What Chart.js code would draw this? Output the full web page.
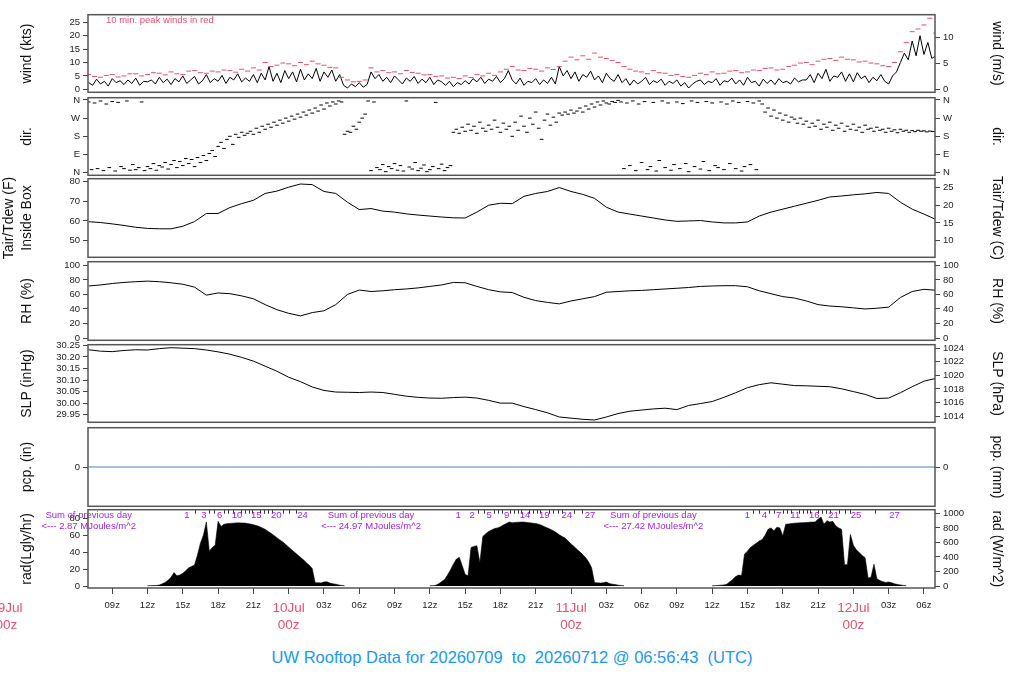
<!DOCTYPE html>
<html>
<head>
<meta charset="utf-8">
<script src="https://cdn.jsdelivr.net/npm/chart.js@4.4.1/dist/chart.umd.min.js"></script>
<style>
  body { margin: 0; background: #fff; width: 1024px; height: 700px; overflow: hidden; position: relative; }
  canvas { position: absolute; left: 0; }
  #title { position: absolute; left: 0; top: 648px; width: 1024px; text-align: center; white-space: pre;
           color: #2297E6; font: 16.5px "Liberation Sans", Arial, sans-serif; }
</style>
</head>
<body>
<canvas id="cWind"></canvas>
<canvas id="cDir"></canvas>
<canvas id="cTemp"></canvas>
<canvas id="cRh"></canvas>
<canvas id="cSlp"></canvas>
<canvas id="cPcp"></canvas>
<canvas id="cRad"></canvas>
<div id="title">UW Rooftop Data for 20260709  to  20260712 @ 06:56:43  (UTC)</div>
<script>
// all times are hours since 2026-07-09 00z
const xMinHour = 6.94, xMaxHour = 78.94;
const xTickHours = [9, 12, 15, 18, 21, 24, 27, 30, 33, 36, 39, 42, 45, 48, 51, 54, 57, 60, 63, 66, 69, 72, 75, 78];
const dayHours = [0, 24, 48, 72];
const dayNames = ['09Jul', '10Jul', '11Jul', '12Jul'];

// wind speed, 20 min
const windStart = 7, windStep = 1 / 3;
const windKts = [
  2.5, 1.5, 3.8, 2.0, 3.0, 1.2, 4.0, 2.5, 3.2, 1.8, 3.5, 2.2, 4.2, 1.5, 3.0, 2.8,
  3.5, 2.0, 4.5, 2.5, 3.8, 1.8, 4.0, 2.8, 5.0, 2.2, 3.5, 4.8, 2.0, 3.2, 5.5, 2.5, 4.0, 3.0, 5.2, 2.2, 4.5, 3.5, 5.8, 2.8, 4.2,
  3.0, 5.5, 2.5, 6.0, 3.5, 8.5,
  3.0, 6.0, 2.5, 7.0, 4.0, 6.5, 2.8, 7.5, 3.5, 5.8, 4.0, 7.8, 3.0, 6.5, 4.5, 7.2, 3.0, 5.5,
  1.5, 0.5, 2.0, 1.0, 2.5, 0.8, 1.8, 6.5,
  4.0, 5.5, 3.0, 4.5, 2.5, 5.0, 3.5, 2.0, 4.2, 3.0, 4.8, 2.2, 3.8, 2.5, 4.5, 1.8, 3.5, 2.8,
  1.5, 3.0, 1.0, 2.5, 1.8, 3.2, 2.0, 4.0, 2.8, 4.5, 2.2, 3.8, 3.0, 4.8, 2.5, 4.0, 7.0,
  3.5, 2.0, 4.2, 1.5, 3.0, 2.5, 4.0, 1.8, 3.5, 2.2, 4.5, 2.0, 8.5,
  5.0, 7.0, 4.0, 6.5, 3.0, 5.5, 4.5, 6.8, 3.5, 5.0, 2.5, 6.0, 4.0, 3.0, 5.5,
  2.5, 4.0, 1.5, 3.5, 2.0, 3.0, 4.5, 1.8, 3.2, 2.5, 3.8, 1.5, 3.0, 2.2, 3.5, 1.2, 2.5, 0.5, 2.0, 3.0,
  3.5, 1.8, 3.0, 2.5, 4.0, 1.5, 3.2, 2.8, 4.2, 2.0, 3.5, 1.5, 4.5, 2.5, 3.0, 1.2, 3.8, 2.2, 3.5, 1.8, 4.0, 2.5, 3.0, 2.0, 4.2, 2.8, 3.5,
  3.5, 5.5, 2.5, 6.0, 4.0, 7.5, 3.0, 5.0, 4.5, 6.5, 3.0, 5.8, 2.8, 6.2, 4.0, 5.0, 2.5, 4.5, 3.2, 5.5, 3.0, 2.0, 5.0, 6.5,
  10.0, 13.5, 11.0, 18.0, 12.5, 20.0, 13.0, 17.5, 11.5, 12.5
];

// 10 min peak wind, shown every 30 min
const peakStart = 7, peakStep = 0.5;
const windPeakKts = [
  5.5, 4.8, 4.5, 5.2, 5.5, 4.6, 5.0, 5.8, 5.8, 5.0, 5.5, 6.2, 6.0, 5.4, 6.5, 5.8, 5.5, 6.8, 7.0, 6.2,
  6.0, 6.8, 6.5, 7.2, 7.0, 6.4, 7.5, 6.8, 8.0, 7.2, 10.0, 8.5, 9.0, 9.8, 9.5, 8.8, 10.0, 9.2, 10.5, 9.5,
  9.0, 8.2, 8.0, 4.5, 3.5, 2.8, 3.0, 3.5, 8.0, 6.5, 7.0, 6.2, 6.5, 5.8, 7.0, 6.3, 6.0, 5.4, 5.5, 4.8,
  5.0, 4.2, 4.5, 4.0, 5.0, 4.4, 5.5, 5.0, 6.0, 5.2, 6.5, 7.5, 8.5, 7.2, 7.0, 7.8, 7.5, 6.8, 8.0, 7.4,
  8.5, 10.5, 12.0, 11.0, 12.5, 11.2, 13.5, 12.0, 11.5, 10.8, 10.0, 8.5, 7.5, 6.8, 6.5, 5.8, 7.0, 6.2, 6.0, 5.2,
  5.5, 4.8, 4.5, 5.2, 6.0, 5.5, 6.5, 5.8, 6.0, 6.8, 7.0, 6.2, 6.5, 7.2, 7.0, 7.8, 8.0, 7.2, 7.5, 8.5,
  9.0, 9.8, 10.0, 9.2, 10.5, 11.2, 11.5, 10.8, 12.0, 11.2, 11.0, 10.2, 10.5, 9.8, 9.5, 8.8, 8.5, 10.0, 14.0, 17.5,
  21.5, 22.5, 24.0, 26.5, 21.0
];

// wind direction, 15 min
const dirStart = 7, dirStep = 0.25;
const dirDeg = [
  350, 15, 345, 20, 355, 10, 340, 25, 352, 8, 348, 30, 20, 355, 12, 40,
  15, 25, 350, 10, 30, 20, 45, 12, 35, 28, 50, 18, 40, 60, 25, 55, 35, 70, 45, 65, 30, 75, 50, 85, 60, 95,
  110, 80, 130, 150, 120, 165, 180, 140, 190, 175, 200, 185, 195,
  205, 190, 220, 200, 230, 215, 240, 225, 250, 235, 260, 245, 270, 255, 280, 265, 290,
  275, 300, 285, 310, 295, 320, 305, 335, 315, 345, 330, 350, 340, 355,
  350, 190, 205,
  200, 230, 215, 250, 270, 290, 355,
  10, 350, 25, 15, 40, 5, 30, 20, 45, 12, 35, 8, 355, 28, 18, 50, 10, 22, 38, 5, 15, 30, 348, 20, 42, 10, 25, 35,
  200, 215, 195, 225, 205, 240, 210, 230, 195, 250, 220, 205, 235, 215, 260, 225, 200, 245, 215, 230,
  180, 250, 210, 280, 230, 200, 270, 240, 300, 220, 165, 260, 290, 235, 275, 250, 295,
  285, 300, 290, 310, 295, 305, 320, 300, 330, 315, 340, 325, 350, 335, 355, 345, 340, 352, 348, 358,
  350, 20, 345, 35, 355, 10, 340, 50, 352, 15, 30, 348, 8, 60, 355, 25, 345, 12, 40, 350,
  20, 342, 45, 5, 355, 30, 348, 18, 55, 352, 10, 345, 35, 25, 350, 15, 340, 45, 355, 20,
  348, 8, 30, 352, 40, 345, 15, 355,
  340, 300, 320, 280, 310, 270, 295, 260, 285, 250, 275, 265, 245, 270,
  240, 255, 225, 245, 230, 260, 215, 240, 225, 250, 210, 235, 220, 245, 205, 230, 215, 240, 210, 225, 200, 235, 215, 220, 205, 225, 210,
  215, 200, 220, 205, 212, 198, 215, 205, 210, 200, 208, 203, 210, 205, 207, 202, 206, 204, 205
];

// hourly series
const hourlyStart = 7, hourlyStep = 1;
const tempF = [
  59.6, 59.2, 58.5, 57.7, 56.8, 56.2, 56.0, 56.0, 57.3, 59.7,
  63.8, 63.8, 66.8, 68.8, 70.5, 74.0, 75.2, 77.2, 78.8, 78.5,
  75.0, 74.0, 69.5, 65.8, 66.3, 65.0, 64.5, 63.6, 63.0, 62.5,
  62.0, 61.6, 61.5, 64.5, 68.0, 69.0, 68.8, 72.5, 74.0, 75.0,
  77.0, 75.0, 73.5, 71.5, 67.0, 64.5, 63.5, 62.5, 61.5, 60.5,
  59.8, 60.0, 60.2, 59.5, 59.0, 59.0, 59.5, 62.5, 64.5, 66.0,
  67.5, 69.0, 70.5, 72.2, 72.7, 73.3, 73.8, 74.5, 74.0, 69.5,
  66.0, 63.5, 60.8
];
const rhPct = [
  71.6, 73, 75, 76.5, 77.5, 78.3, 77.5, 76, 74, 70,
  59, 62, 61, 58, 54, 46, 39, 34, 30.5, 35,
  37.5, 46, 60, 66, 64, 65, 66.5, 67.5, 69, 71,
  73, 76.5, 76, 71, 66.5, 63.5, 62.6, 56, 51.5, 49,
  47, 51, 54, 57, 63, 64, 65, 65.5, 66.5, 67.5,
  68.5, 69.5, 71, 71.6, 72, 72, 70.5, 65, 61, 57,
  55, 51, 46, 44, 43, 41.5, 40, 41, 42.5, 55.8,
  64, 67, 65.8
];
const slpInHg = [
  30.231, 30.225, 30.223, 30.228, 30.231, 30.230, 30.236, 30.240, 30.238, 30.236,
  30.230, 30.222, 30.212, 30.198, 30.182, 30.160, 30.138, 30.112, 30.093, 30.070,
  30.055, 30.048, 30.047, 30.046, 30.048, 30.046, 30.038, 30.030, 30.025, 30.022,
  30.021, 30.024, 30.026, 30.022, 30.012, 30.000, 30.000, 29.985, 29.972, 29.958,
  29.940, 29.935, 29.930, 29.927, 29.940, 29.955, 29.965, 29.970, 29.975, 29.978,
  29.972, 29.990, 29.998, 30.007, 30.025, 30.045, 30.067, 30.080, 30.088, 30.082,
  30.076, 30.075, 30.073, 30.071, 30.062, 30.050, 30.038, 30.020, 30.022, 30.045,
  30.071, 30.095, 30.107
];
const pcpStart = 7, pcpStep = 6;
const pcpIn = [0, 0, 0, 0, 0, 0, 0, 0, 0, 0, 0, 0, 0];

// solar radiation W/m^2, 15 min, one array per day
const radStep = 0.25;
const radDay1Start = 12;
const radDay1 = [
  3, 5, 6, 8, 13, 30, 50, 80, 120, 185,
  140, 150, 175, 210, 250, 270, 290, 430, 590, 700,
  880, 480, 530, 560, 890, 820, 850, 858, 862, 865,
  868, 870, 868, 866, 860, 852, 845, 832, 818, 800,
  780, 752, 725, 695, 665, 635, 605, 570, 535, 500,
  465, 430, 395, 360, 320, 285, 240, 45, 45, 42,
  55, 58, 40, 30, 25, 15, 8, 3
];
const radDay2Start = 36;
const radDay2 = [
  3, 5, 10, 30, 60, 90, 150, 220, 300, 370,
  395, 280, 160, 140, 530, 545, 555, 320, 680, 720,
  750, 770, 790, 800, 815, 840, 860, 880, 870, 875,
  878, 880, 880, 875, 870, 865, 860, 850, 835, 815,
  800, 780, 760, 735, 705, 680, 660, 620, 580, 545,
  505, 470, 430, 390, 330, 250, 45, 45, 40, 45,
  55, 35, 25, 20, 12, 8, 3
];
const radDay3Start = 60;
const radDay3 = [
  3, 5, 8, 12, 15, 25, 60, 90, 130, 150,
  145, 440, 480, 530, 560, 590, 620, 640, 700, 780,
  800, 760, 810, 800, 690, 850, 855, 860, 865, 868,
  870, 872, 875, 878, 880, 880, 920, 950, 850, 900,
  880, 890, 830, 800, 780, 290, 300, 710, 560, 500,
  460, 420, 390, 110, 120, 300, 100, 75, 60, 50,
  55, 45, 30, 20, 15, 8, 3
];

// cumulative MJ/m^2 marks along the top of the radiation panel
const cumHoursDay1 = [15.34, 16.79, 18.13, 19.6, 21.25, 22.95, 25.17];
const cumLabelsDay1 = [1, 3, 6, 10, 15, 20, 24];
const cumHoursDay2 = [38.41, 39.6, 41.04, 42.53, 44.09, 45.73, 47.63, 49.62];
const cumLabelsDay2 = [1, 2, 5, 9, 14, 19, 24, 27];
const cumHoursDay3 = [63.0, 64.43, 65.64, 67.06, 68.68, 70.32, 72.23, 75.49];
const cumLabelsDay3 = [1, 4, 7, 11, 16, 21, 25, 27];
const sumHours = [7, 31, 55];
const sumMJ = ['2.87', '24.97', '27.42'];

// axis ticks
const windKtsTicks = [0, 5, 10, 15, 20, 25];
const windMsTicks = [0, 5, 10];
const dirTicks = [0, 90, 180, 270, 360];
const dirTickLabels = ['N', 'E', 'S', 'W', 'N'];
const tempFTicks = [50, 60, 70, 80];
const tempCTicks = [10, 15, 20, 25];
const rhTicks = [0, 20, 40, 60, 80, 100];
const slpInTicks = [29.95, 30.00, 30.05, 30.10, 30.15, 30.20, 30.25];
const slpHpaTicks = [1014, 1016, 1018, 1020, 1022, 1024];
const pcpTicks = [0];
const radLyTicks = [0, 20, 40, 60, 80];
const radWTicks = [0, 200, 400, 600, 800, 1000];

// unit conversions
const KT_MS = 0.514444, INHG_HPA = 33.8639, LY_WM2 = 11.622, IN_MM = 25.4;
const fToC = f => (f - 32) * 5 / 9;

const FONT = '"Liberation Sans", Arial, sans-serif';
const RED = '#DF536B', PURPLE = '#A020F0';
const PLOT_L = 88, PLOT_R = 935, PAD = 8, XAXIS_H = 50;

function series(start, step, vals) {
  return vals.map((v, i) => ({x: start + i * step, y: v}));
}

function yAxis(side, min, max, ticks, title, fmt) {
  const left = side === 'left';
  const multi = Array.isArray(title);
  return {
    position: side, min: min, max: max,
    afterBuildTicks: s => { s.ticks = ticks.map(v => ({value: v})); },
    afterFit: s => { s.width = left ? PLOT_L : 1024 - PLOT_R; },
    grid: {drawOnChartArea: false, tickLength: 5, color: '#444'},
    border: {display: false},
    ticks: {
      autoSkip: false,
      font: {family: FONT, size: 9.5}, color: '#222', padding: 3,
      callback: (v, i) => fmt ? fmt(v, i) : String(v)
    },
    title: {
      display: true, text: title, color: '#111',
      font: {family: FONT, size: 14, lineHeight: 1.25},
      padding: {top: multi ? 0.75 : (left ? 18.75 : 18.25), bottom: 0}
    }
  };
}

const hiddenX = {type: 'linear', min: xMinHour, max: xMaxHour, display: false};

const radX = {
  type: 'linear', min: xMinHour, max: xMaxHour, position: 'bottom',
  afterBuildTicks: s => { s.ticks = xTickHours.map(v => ({value: v})); },
  afterFit: s => { s.height = XAXIS_H; },
  grid: {drawOnChartArea: false, tickLength: 6, color: '#444'},
  border: {display: false},
  ticks: {
    autoSkip: false, maxRotation: 0, padding: 5.5, color: '#222',
    font: {family: FONT, size: 9.5},
    callback: v => v % 24 === 0 ? '' : String(v % 24).padStart(2, '0') + 'z'
  }
};

//caja alrededor de cada panel
const framePlugin = {
  id: 'frame',
  afterDraw(chart) {
    const {ctx, chartArea: a} = chart;
    ctx.save();
    ctx.strokeStyle = '#555';
    ctx.lineWidth = 1.5;
    ctx.strokeRect(a.left, a.top, a.right - a.left, a.bottom - a.top);
    ctx.restore();
  }
};

const windNote = {
  id: 'windNote',
  afterDraw(chart) {
    const {ctx, chartArea: a} = chart;
    ctx.save();
    ctx.fillStyle = RED;
    ctx.font = '9.5px ' + FONT;
    ctx.textBaseline = 'middle';
    ctx.fillText('10 min. peak winds in red', a.left + 18, a.top + 6);
    ctx.restore();
  }
};

const radNotes = {
  id: 'radNotes',
  afterDatasetsDraw(chart) {
    const {ctx, chartArea: a, scales: {x}} = chart;
    ctx.save();
    ctx.font = '9.5px ' + FONT;
    ctx.textAlign = 'center';
    ctx.textBaseline = 'middle';
    ctx.fillStyle = PURPLE;
    ctx.strokeStyle = '#333';
    ctx.lineWidth = 1;
    [[cumHoursDay1, cumLabelsDay1], [cumHoursDay2, cumLabelsDay2], [cumHoursDay3, cumLabelsDay3]].forEach(([hrs, labs]) => {
      hrs.forEach((h, k) => {
        ctx.fillText(String(labs[k]), x.getPixelForValue(h), a.top + 6);
        if (k + 1 < hrs.length) {
          // una marca por cada MJ entre etiquetas
          const n = labs[k + 1] - labs[k];
          for (let j = 1; j < n; j++) {
            const px = Math.round(x.getPixelForValue(h + (hrs[k + 1] - h) * j / n)) + 0.5;
            ctx.beginPath();
            ctx.moveTo(px, a.top);
            ctx.lineTo(px, a.top + 4);
            ctx.stroke();
          }
        }
      });
    });
    sumHours.forEach((h, k) => {
      const px = x.getPixelForValue(h);
      ctx.fillText('Sum of previous day', px, a.top + 6);
      ctx.fillText('<--- ' + sumMJ[k] + ' MJoules/m^2', px, a.top + 17);
    });
    // etiquetas de dia en rojo
    ctx.fillStyle = RED;
    ctx.font = '13.5px ' + FONT;
    dayHours.forEach((h, k) => {
      const px = x.getPixelForValue(h);
      ctx.fillText(dayNames[k], px, a.bottom + 20);
      ctx.fillText('00z', px, a.bottom + 37);
    });
    ctx.restore();
  }
};

function makePanel(id, boxTop, boxBottom, datasets, yLeft, yRight, xScale, extraPlugins) {
  const cv = document.getElementById(id);
  const hasX = xScale !== hiddenX;
  cv.width = 1024;
  cv.height = (boxBottom - boxTop) + PAD + (hasX ? XAXIS_H : PAD);
  cv.style.top = (boxTop - PAD) + 'px';
  return new Chart(cv, {
    type: 'line',
    data: {datasets: datasets},
    options: {
      responsive: false,
      animation: false,
      events: [],
      layout: {padding: {top: PAD, bottom: hasX ? 0 : PAD, left: 0, right: 0}},
      plugins: {legend: {display: false}, tooltip: {enabled: false}},
      scales: {x: xScale, y: yLeft, y2: yRight}
    },
    plugins: [framePlugin].concat(extraPlugins || [])
  });
}

const lineDs = (data, color, extra) => Object.assign({
  data: data, borderColor: color, borderWidth: 1, pointRadius: 0, tension: 0, fill: false
}, extra || {});

// wind
makePanel('cWind', 14, 93, [
  lineDs(series(peakStart, peakStep, windPeakKts), RED, {showLine: false, pointStyle: 'line', pointRadius: 2.5, borderWidth: 1}),
  lineDs(series(windStart, windStep, windKts), '#000')
], yAxis('left', -1.1, 27.82, windKtsTicks, 'wind (kts)'),
   yAxis('right', -1.1 * KT_MS, 27.82 * KT_MS, windMsTicks, 'wind (m/s)'),
   hiddenX, [windNote]);

// direction
const dirFmt = (v, i) => dirTickLabels[i];
makePanel('cDir', 97, 176, [
  lineDs(series(dirStart, dirStep, dirDeg), '#000', {showLine: false, pointStyle: 'line', pointRadius: 1.8, borderWidth: 1})
], yAxis('left', -13.1, 371.2, dirTicks, 'dir.', dirFmt),
   yAxis('right', -13.1, 371.2, dirTicks, 'dir.', dirFmt), hiddenX);

// temperature
makePanel('cTemp', 178, 258, [
  lineDs(series(hourlyStart, hourlyStep, tempF), '#000')
], yAxis('left', 41.5, 81.5, tempFTicks, ['Tair/Tdew (F)', 'Inside Box']),
   yAxis('right', fToC(41.5), fToC(81.5), tempCTicks, 'Tair/Tdew (C)'), hiddenX);

// relative humidity
makePanel('cRh', 261, 341, [
  lineDs(series(hourlyStart, hourlyStep, rhPct), '#000')
], yAxis('left', -3.1, 105, rhTicks, 'RH (%)'),
   yAxis('right', -3.1, 105, rhTicks, 'RH (%)'), hiddenX);

// pressure
makePanel('cSlp', 344, 423, [
  lineDs(series(hourlyStart, hourlyStep, slpInHg), '#000')
], yAxis('left', 29.917, 30.253, slpInTicks, 'SLP (inHg)', v => v.toFixed(2)),
   yAxis('right', 29.917 * INHG_HPA, 30.253 * INHG_HPA, slpHpaTicks, 'SLP (hPa)'), hiddenX);

// precipitation
makePanel('cPcp', 427, 507, [
  lineDs(series(pcpStart, pcpStep, pcpIn), '#4682B4')
], yAxis('left', -1, 1, pcpTicks, 'pcp. (in)'),
   yAxis('right', -IN_MM, IN_MM, pcpTicks, 'pcp. (mm)'), hiddenX);

// radiation (data on W/m^2 axis)
const radDs = (start, vals) => lineDs(series(start, radStep, vals), '#000',
  {yAxisID: 'y2', backgroundColor: '#000', fill: 'origin', borderWidth: 0.6});
makePanel('cRad', 509, 588, [
  radDs(radDay1Start, radDay1), radDs(radDay2Start, radDay2), radDs(radDay3Start, radDay3)
], yAxis('left', -27.3 / LY_WM2, 1050.5 / LY_WM2, radLyTicks, 'rad(Lgly/hr)'),
   yAxis('right', -27.3, 1050.5, radWTicks, 'rad (W/m^2)'), radX, [radNotes]);
</script>
</body>
</html>
